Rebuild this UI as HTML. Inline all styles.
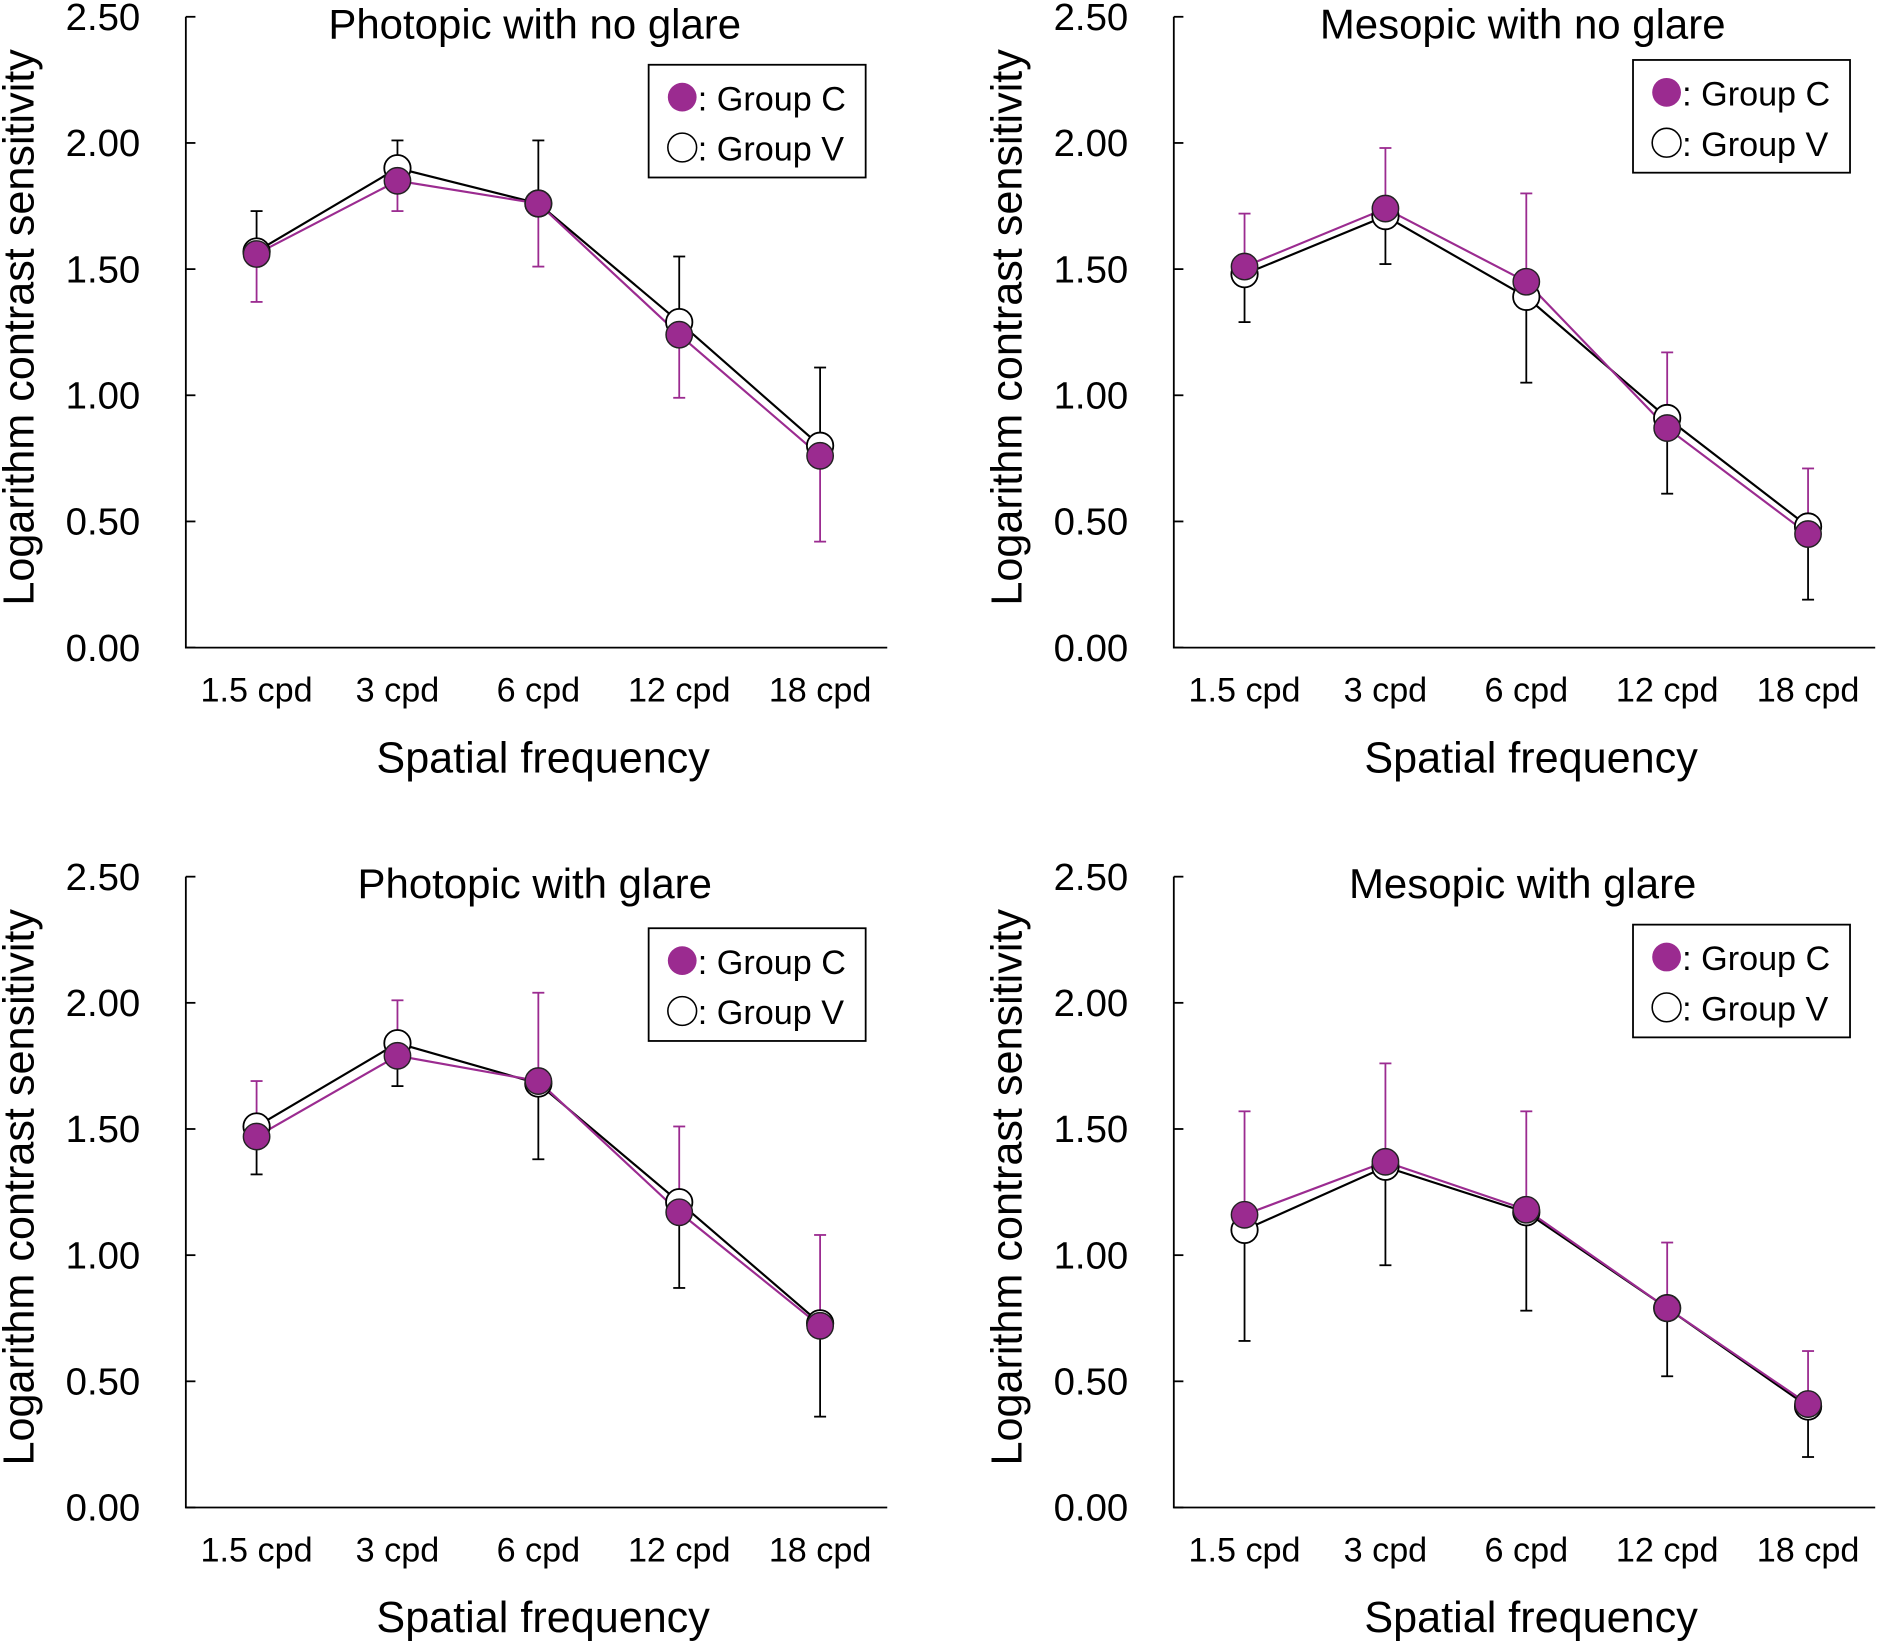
<!DOCTYPE html>
<html><head><meta charset="utf-8"><style>
html,body{margin:0;padding:0;background:#fff;}
svg{display:block;font-family:"Liberation Sans",Arial,sans-serif;}
</style></head><body>
<svg id="fig" width="1880" height="1643" viewBox="0 0 1568 1370" preserveAspectRatio="none" xmlns="http://www.w3.org/2000/svg"></svg>
<script>
const categories = ["1.5 cpd","3 cpd","6 cpd","12 cpd","18 cpd"];
const yTicks = [0,0.5,1,1.5,2,2.5];
const yTickLabels = ["0.00","0.50","1.00","1.50","2.00","2.50"];
const titles = ["Photopic with no glare","Mesopic with no glare","Photopic with glare","Mesopic with glare"];
const groupC_p1 = [1.56,1.85,1.76,1.24,0.76];
const groupC_err_p1 = [1.37,1.73,1.51,0.99,0.42];
const groupV_p1 = [1.57,1.90,1.76,1.29,0.80];
const groupV_err_p1 = [1.73,2.01,2.01,1.55,1.11];
const groupC_p2 = [1.51,1.74,1.45,0.87,0.45];
const groupC_err_p2 = [1.72,1.98,1.80,1.17,0.71];
const groupV_p2 = [1.48,1.71,1.39,0.91,0.48];
const groupV_err_p2 = [1.29,1.52,1.05,0.61,0.19];
const groupC_p3 = [1.47,1.79,1.69,1.17,0.72];
const groupC_err_p3 = [1.69,2.01,2.04,1.51,1.08];
const groupV_p3 = [1.51,1.84,1.68,1.21,0.73];
const groupV_err_p3 = [1.32,1.67,1.38,0.87,0.36];
const groupC_p4 = [1.16,1.37,1.18,0.79,0.41];
const groupC_err_p4 = [1.57,1.76,1.57,1.05,0.62];
const groupV_p4 = [1.10,1.35,1.17,0.79,0.40];
const groupV_err_p4 = [0.66,0.96,0.78,0.52,0.20];

const panels = [
 {c:groupC_p1,ce:groupC_err_p1,v:groupV_p1,ve:groupV_err_p1,ox:0,oy:0,leg:[541,54]},
 {c:groupC_p2,ce:groupC_err_p2,v:groupV_p2,ve:groupV_err_p2,ox:824,oy:0,leg:[538,50]},
 {c:groupC_p3,ce:groupC_err_p3,v:groupV_p3,ve:groupV_err_p3,ox:0,oy:717,leg:[541,774]},
 {c:groupC_p4,ce:groupC_err_p4,v:groupV_p4,ve:groupV_err_p4,ox:824,oy:717,leg:[538,771]}
];
const PURPLE="#9b2b90";
const svg=document.getElementById('fig');
const NS="http://www.w3.org/2000/svg";
function mk(tag,attrs,parent,text){const e=document.createElementNS(NS,tag);for(const k in attrs)e.setAttribute(k,attrs[k]);if(text!==undefined)e.textContent=text;parent.appendChild(e);return e;}

panels.forEach((p,i)=>{
  const g=mk('g',{},svg);
  
  
  const x0=155+p.ox, xEnd=740+p.ox, yTop=14+p.oy, yBot=540+p.oy;
  const ys=v=>yBot-(v/2.5)*(yBot-yTop);
  const xs=j=>214+p.ox+j*117.5;
  const ax=mk('path',{d:`M${x0} ${yTop}V${yBot}H${xEnd}`,stroke:'#000','stroke-width':1.5,fill:'none'},g);
  
  
  yTicks.forEach((t,k)=>{
    mk('line',{x1:x0,x2:x0+8,y1:ys(t),y2:ys(t),stroke:'#000','stroke-width':1.5},g);
    const tl=mk('text',{x:x0-38,y:ys(t)+11,'text-anchor':'end','font-size':32},g,yTickLabels[k]);
    
    
  });
  categories.forEach((c,j)=>{
    const tl=mk('text',{x:xs(j),y:585+p.oy,'text-anchor':'middle','font-size':28.5},g,c);
    
    
  });
  const xt=mk('text',{x:453+p.ox,y:644+p.oy,'text-anchor':'middle','font-size':36},g,'Spatial frequency');
  
  
  const yt=mk('text',{x:0,y:0,'text-anchor':'middle','font-size':36,transform:`translate(${28+p.ox},${273+p.oy}) rotate(-90)`},g,'Logarithm contrast sensitivity');
  
  
  const tt=mk('text',{x:446+p.ox,y:32+p.oy,'text-anchor':'middle','font-size':35},g,titles[i]);
  
  
  p.v.forEach((v,j)=>{
    mk('line',{x1:xs(j),x2:xs(j),y1:ys(v),y2:ys(p.ve[j]),stroke:'#000','stroke-width':1.5},g);
    mk('line',{x1:xs(j)-5,x2:xs(j)+5,y1:ys(p.ve[j]),y2:ys(p.ve[j]),stroke:'#000','stroke-width':1.5},g);
  });
  p.c.forEach((v,j)=>{
    mk('line',{x1:xs(j),x2:xs(j),y1:ys(v),y2:ys(p.ce[j]),stroke:PURPLE,'stroke-width':1.5},g);
    mk('line',{x1:xs(j)-5,x2:xs(j)+5,y1:ys(p.ce[j]),y2:ys(p.ce[j]),stroke:PURPLE,'stroke-width':1.5},g);
  });
  const lv=mk('polyline',{points:p.v.map((v,j)=>xs(j)+','+ys(v)).join(' '),stroke:'#000','stroke-width':1.8,fill:'none'},g);
  
  
  const lc=mk('polyline',{points:p.c.map((v,j)=>xs(j)+','+ys(v)).join(' '),stroke:PURPLE,'stroke-width':1.8,fill:'none'},g);
  
  
  p.v.forEach((v,j)=>{
    const m=mk('circle',{cx:xs(j),cy:ys(v),r:11,fill:'#fff',stroke:'#000','stroke-width':1.5},g);
    
    
  });
  p.c.forEach((v,j)=>{
    const m=mk('circle',{cx:xs(j),cy:ys(v),r:11,fill:PURPLE,stroke:'#222','stroke-width':1.2},g);
    
    
  });
  const lx=p.leg[0]+p.ox, ly=p.leg[1];
  const lg=mk('g',{},g);
  
  
  mk('rect',{x:lx,y:ly,width:181,height:94,fill:'#fff',stroke:'#000','stroke-width':1.5},lg);
  mk('circle',{cx:lx+28,cy:ly+27,r:12,fill:PURPLE},lg);
  mk('text',{x:lx+41,y:ly+38,'font-size':28.5},lg,': Group C');
  mk('circle',{cx:lx+28,cy:ly+69,r:12,fill:'#fff',stroke:'#000','stroke-width':1.3},lg);
  mk('text',{x:lx+41,y:ly+80,'font-size':28.5},lg,': Group V');
});
</script>
</body></html>
